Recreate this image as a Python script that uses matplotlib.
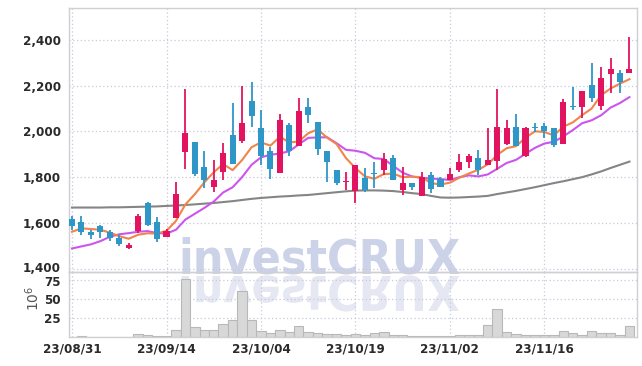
import matplotlib.pyplot as plt
import numpy as np
from matplotlib.textpath import TextPath
from matplotlib.patches import PathPatch
from matplotlib.font_manager import FontProperties
from matplotlib.transforms import Affine2D, ScaledTranslation

# trading days shown on the chart
dates = ["23/08/31", "23/09/01", "23/09/04", "23/09/05", "23/09/06", "23/09/07", "23/09/08",
         "23/09/11", "23/09/12", "23/09/13", "23/09/14", "23/09/15", "23/09/18", "23/09/19",
         "23/09/20", "23/09/21", "23/09/22", "23/09/25", "23/09/26", "23/09/27", "23/10/04",
         "23/10/05", "23/10/06", "23/10/10", "23/10/11", "23/10/12", "23/10/13", "23/10/16",
         "23/10/17", "23/10/18", "23/10/19", "23/10/20", "23/10/23", "23/10/24", "23/10/25",
         "23/10/26", "23/10/27", "23/10/30", "23/10/31", "23/11/01", "23/11/02", "23/11/03",
         "23/11/06", "23/11/07", "23/11/08", "23/11/09", "23/11/10", "23/11/13", "23/11/14",
         "23/11/15", "23/11/16", "23/11/17", "23/11/20", "23/11/21", "23/11/22", "23/11/23",
         "23/11/24", "23/11/27", "23/11/28", "23/11/29"]

opens = [1615, 1605, 1560, 1585, 1560, 1535, 1490, 1565, 1686, 1605,
         1540, 1622, 1910, 1953, 1843, 1757, 1822, 1984, 1958, 2133,
         2015, 1913, 1820, 2028, 1937, 2107, 2040, 1914, 1831, 1777,
         1740, 1796, 1815, 1832, 1883, 1745, 1773, 1718, 1808, 1790,
         1788, 1832, 1867, 1884, 1853, 1871, 1946, 2019, 1892, 2020,
         2024, 2015, 1945, 2112, 2107, 2203, 2112, 2252, 2256, 2256]
highs = [1630, 1630, 1570, 1590, 1570, 1545, 1512, 1638, 1690, 1625,
         1575, 1780, 2185, 1955, 1915, 1875, 1950, 2125, 2200, 2216,
         2095, 1932, 2076, 2037, 2146, 2146, 2042, 1915, 1832, 1822,
         1853, 1840, 1866, 1905, 1897, 1844, 1775, 1822, 1822, 1800,
         1840, 1901, 1900, 1919, 2015, 2186, 2050, 2076, 2019, 2037,
         2037, 2016, 2142, 2194, 2178, 2299, 2282, 2321, 2269, 2413]
lows = [1570, 1545, 1530, 1535, 1520, 1500, 1487, 1555, 1585, 1515,
        1538, 1620, 1835, 1806, 1752, 1735, 1787, 1857, 1950, 2020,
        1853, 1792, 1818, 1893, 1936, 2037, 1897, 1779, 1765, 1744,
        1688, 1735, 1752, 1810, 1787, 1722, 1745, 1716, 1731, 1755,
        1786, 1822, 1840, 1810, 1852, 1831, 1940, 1935, 1888, 1997,
        1970, 1934, 1944, 2094, 2059, 2128, 2094, 2168, 2168, 2255]
closes = [1585, 1560, 1545, 1560, 1535, 1508, 1505, 1632, 1592, 1530,
          1565, 1725, 1992, 1815, 1788, 1787, 1905, 1858, 2036, 2068,
          1893, 1835, 2050, 1914, 2088, 2072, 1923, 1866, 1775, 1780,
          1852, 1745, 1812, 1879, 1788, 1774, 1758, 1800, 1750, 1757,
          1814, 1866, 1892, 1832, 1875, 2019, 2015, 1937, 2015, 2017,
          2003, 1941, 2128, 2108, 2177, 2147, 2233, 2273, 2217, 2273]

# volume in millions
volumes = [0.5, 1.3, 0.3, 0.3, 0.3, 0.3, 0.3, 4, 3, 1.5,
           0.8, 9, 76, 13, 9, 9, 17, 22, 61, 23,
           8, 5, 9, 6, 14, 6, 5, 4, 4, 2.6,
           4, 2.6, 5, 6, 2.6, 2.6, 1, 1, 1, 1.2,
           1.5, 2.6, 2.6, 2.6, 16, 37, 6, 4, 2.6, 2,
           2, 2, 8, 5, 2.6, 8, 5, 5, 2.6, 14]

# moving averages: first values (need earlier closes)
ma5_head = [1561, 1576, 1573, 1570]
ma10_head = [1488, 1497, 1506, 1520, 1539, 1550, 1555, 1561, 1564]
ma_long = [1667, 1667, 1667, 1667, 1668, 1668, 1669, 1670, 1671, 1672,
           1674, 1676, 1678, 1681, 1684, 1687, 1691, 1695, 1700, 1705,
           1709, 1712, 1715, 1717, 1720, 1722, 1726, 1730, 1734, 1738,
           1741, 1742, 1742, 1741, 1739, 1735, 1730, 1726, 1718, 1711,
           1710, 1711, 1713, 1715, 1718, 1726, 1733, 1740, 1748, 1756,
           1765, 1774, 1782, 1791, 1800, 1812, 1825, 1840, 1854, 1868]

tick_idx = [0, 10, 20, 30, 40, 50]
price_ticks = [1400, 1600, 1800, 2000, 2200, 2400]
vol_ticks = [25, 50, 75]

UP = "#e3145f"
DOWN = "#2f96c8"
GRID = "#c9c9de"
SPINE = "#cfcfd6"
TXT = "#2a2a2a"

tick_fp = FontProperties(family="DejaVu Sans", weight="bold", stretch="condensed", size=9.5)


def rolling(vals, n, head):
    out = list(head)
    for i in range(len(head), len(vals)):
        out.append(np.mean(vals[i - n + 1:i + 1]))
    return out


ma5 = rolling(closes, 5, ma5_head)
ma10 = rolling(closes, 10, ma10_head)

W, H = 642, 366
fig = plt.figure(figsize=(W / 100, H / 100), dpi=100)
fig.patch.set_facecolor("white")
ax = fig.add_axes([69 / W, (H - 272) / H, 568 / W, 264 / H])
axv = fig.add_axes([69 / W, (H - 337) / H, 568 / W, 65 / H], sharex=ax)
for a in (ax, axv):
    a.set_facecolor("none")
    for s in a.spines.values():
        s.set_color(SPINE)
        s.set_linewidth(1.0)
    a.grid(True, color=GRID, linestyle=(0, (1, 2)), linewidth=0.9)
    a.set_axisbelow(True)
    a.tick_params(length=0)

x = np.arange(len(closes))
o = np.array(opens)
c = np.array(closes)
colors = [UP if cc >= oo else DOWN for oo, cc in zip(o, c)]
ax.vlines(x, lows, highs, colors=colors, linewidth=1.3, zorder=3)
body_h = np.maximum(np.abs(c - o), 4)
ax.bar(x, body_h, bottom=np.minimum(o, c), width=0.64, color=colors, zorder=4)

ax.plot(x, ma_long, color="#858585", linewidth=1.5, zorder=2)
ax.plot(x, ma10, color="#cc55ee", linewidth=1.5, zorder=2)
ax.plot(x, ma5, color="#f0844a", linewidth=1.5, zorder=2)

ax.set_xlim(-0.32, 59.8)
ax.set_ylim(1385, 2540)
ax.set_yticks(price_ticks)
ax.set_yticklabels([f"{p:,}" for p in price_ticks], fontproperties=tick_fp, color=TXT)
ax.tick_params(axis="y", pad=6)
ax.tick_params(axis="x", labelbottom=False)

axv.bar(x, volumes, width=1.0, color="#d8d8d8", edgecolor="#b8b8b8", linewidth=0.8, zorder=2)
axv.set_ylim(0, 85.5)
axv.set_yticks(vol_ticks)
axv.set_yticklabels([str(v) for v in vol_ticks], fontproperties=tick_fp, color=TXT)
axv.tick_params(axis="y", pad=6)
axv.set_xticks(tick_idx)
axv.set_xticklabels([dates[i] for i in tick_idx], fontproperties=tick_fp, color=TXT)
axv.tick_params(axis="x", pad=4)

# nudge the two labels that meet at the panel border apart a little
lbl_low = ax.get_yticklabels()[0]
lbl_low.set_transform(lbl_low.get_transform() + ScaledTranslation(0, 2 / 100, fig.dpi_scale_trans))
lbl_top = axv.get_yticklabels()[-1]
lbl_top.set_transform(lbl_top.get_transform() + ScaledTranslation(0, -1.5 / 100, fig.dpi_scale_trans))

fig.text(33 / W, 1 - 298 / H, r"$10^6$", rotation=90, ha="center", va="center",
         fontsize=10, color="#555555")

# watermark (real text) with its mirrored reflection
wm_pt = 34.5
wm_fp = FontProperties(family="DejaVu Sans", weight="bold", stretch="condensed", size=wm_pt)
fig.text(178 / W, (H - 273) / H, "investCRUX", fontproperties=wm_fp, color="#ccd2e8",
         ha="left", va="baseline", zorder=-1)
tp = TextPath((0, 0), "investCRUX", size=wm_pt * 100 / 72, prop=wm_fp)
to_fig = Affine2D().scale(1 / W, 1 / H) + fig.transFigure
mirror_tr = Affine2D().scale(1, -1).translate(178, H - 276)
fig.patches.append(PathPatch(tp, transform=mirror_tr + to_fig, facecolor="#e5e7f2",
                             edgecolor="none", zorder=-1))

fig.savefig("out.png", dpi=100)
